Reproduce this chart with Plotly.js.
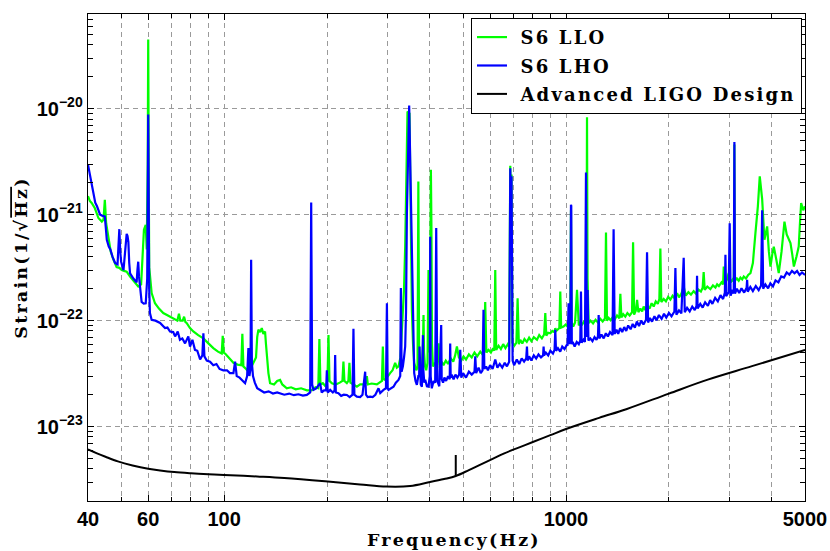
<!DOCTYPE html>
<html>
<head>
<meta charset="utf-8">
<script src="https://cdn.plot.ly/plotly-3.0.1.min.js"></script>
<style>
  html, body { margin: 0; padding: 0; background: #fff; }
  #chart { width: 830px; height: 551px; }
  .legendtext { letter-spacing: 2.2px; }
  .annotation-text, .ytitle { letter-spacing: 2.2px; }
</style>
</head>
<body>
<div id="chart"></div>
<script>
// ---- data: [frequency (Hz), strain in units of 1e-22 / sqrt(Hz)] ----
const STRAIN_UNIT = 1e-22;

const lloPoints = [
  [40, 15], [40.5, 13.5], [41.0, 12.9], [41.9, 11.5], [42.9, 9.3], [43.9, 8.6], [44.4, 9.0], [44.8, 13.8], [45.2, 8.3],
  [45.9, 5.8], [46.6, 4.5], [47.4, 3.8], [48.5, 3.2], [49.4, 3.15], [50.2, 3.0], [51.0, 2.95], [51.9, 2.9], [53.1, 2.6],
  [54.0, 2.45], [54.9, 2.3], [56.1, 2.1], [57.2, 2.2], [57.8, 3.8], [58.3, 7.2], [59.0, 8.0], [59.4, 4.7], [59.8, 30],
  [60.0, 450], [60.2, 30], [60.4, 3.2], [61.4, 1.82], [62.8, 1.46], [64.5, 1.3], [66.4, 1.18], [68.5, 1.12], [71.1, 1.05],
  [73.0, 1.0], [73.8, 1.16], [74.5, 1.0], [75.7, 1.0], [76.4, 1.09], [77.1, 0.97], [77.7, 0.95], [79.5, 0.85], [81.3, 0.79],
  [84, 0.73], [87.0, 0.68], [90, 0.61], [93.0, 0.55], [96, 0.51], [98.4, 0.49], [99.1, 0.72], [99.8, 0.5], [100.7, 0.49],
  [103.5, 0.44], [106.5, 0.40], [109.5, 0.385], [112.3, 0.38], [113.1, 0.75], [113.9, 0.37], [116, 0.35], [117.8, 0.33],
  [119.8, 0.36], [121.8, 0.40], [124, 0.45], [125, 0.7], [126.0, 0.82], [127.5, 0.78], [128.9, 0.85], [130.3, 0.75],
  [131.8, 0.79], [132.6, 0.6], [133.3, 0.46], [134.8, 0.32], [136.3, 0.257], [140, 0.25], [143, 0.27], [145.8, 0.276],
  [148, 0.25], [152.6, 0.23], [157, 0.235], [162, 0.225], [168, 0.23], [174.6, 0.22], [180, 0.22], [185, 0.235],
  [188.6, 0.23], [190, 0.67], [191.4, 0.25], [194.5, 0.257], [198, 0.24], [200.6, 0.27], [202, 0.73], [203.4, 0.27],
  [206.7, 0.257], [212, 0.25], [218, 0.26], [221.9, 0.27], [223.4, 0.41], [224.9, 0.27], [228.6, 0.257], [231, 0.27],
  [232.6, 0.40], [234.2, 0.26], [239, 0.25], [244.6, 0.238], [250, 0.25], [256, 0.25], [260, 0.26], [261.6, 0.30],
  [263.3, 0.25], [270, 0.255], [279.9, 0.25], [286.2, 0.26], [289.5, 0.27], [291.3, 0.57], [293, 0.28], [295.9, 0.276],
  [301, 0.30], [306, 0.32], [311, 0.34], [316.5, 0.40], [320, 0.36], [323.7, 0.37], [328, 0.45], [333.4, 1.18],
  [336, 2.0], [338.6, 5.0], [341, 20], [343.9, 94], [348.6, 90], [350.5, 20], [352.5, 3], [354.2, 1.27], [357, 0.6],
  [359.8, 0.40], [364.8, 0.34], [368, 0.36], [370, 20.6], [372, 0.38], [374.6, 0.40], [379, 0.37], [381.7, 0.6],
  [383.1, 1.13], [384.5, 0.5], [387, 0.37], [390.1, 0.34], [393.5, 0.4], [396.2, 3.0], [398.2, 0.5], [400, 0.7],
  [401.5, 10], [402.6, 26.5], [404, 8], [405.5, 0.6], [408.1, 0.37], [414, 0.40], [420, 0.36], [424, 0.61], [428, 0.38],
  [433, 0.41], [438.3, 0.38], [445, 0.42], [452, 0.39], [460, 0.44], [468, 0.41], [474, 0.47], [479.7, 0.57], [486, 0.45],
  [494, 0.42], [501.5, 0.46], [510, 0.43], [520, 0.48], [530, 0.45], [540, 0.50], [550, 0.46], [561.4, 0.51], [570, 0.48],
  [576, 0.5], [580.4, 1.5], [585, 0.5], [593.5, 0.53], [603, 0.5], [612, 0.55], [617, 0.52], [621, 3.0], [625, 0.53],
  [635.1, 0.58], [645, 0.54], [655, 0.6], [665, 0.55], [676, 0.6], [682, 0.57], [687.1, 29], [690, 10], [693, 24],
  [697, 0.62], [706, 0.58], [716, 0.62], [721.9, 1.63], [728, 0.6], [734.8, 0.66], [745, 0.61], [756, 0.67], [768, 0.63],
  [780, 0.69], [792, 0.64], [805, 0.70], [822.6, 0.66], [835, 0.73], [850, 0.68], [863, 0.74], [869.9, 1.18], [876, 0.72],
  [887, 0.77], [899.8, 0.76], [912, 0.8], [925, 0.78], [930.4, 0.85], [937, 0.8], [950, 0.84], [956, 0.85], [962.3, 1.88],
  [968, 0.86], [983.4, 0.88], [998, 0.92], [1014, 0.87], [1029, 0.92], [1034, 11], [1039, 0.95], [1050, 0.88],
  [1063, 0.96], [1077, 1.95], [1090, 0.9], [1100, 0.95], [1115, 0.92], [1130, 0.98], [1144, 0.93], [1148, 2.5],
  [1152, 83], [1156, 2.5], [1165, 0.95], [1180, 1.0], [1200, 0.94], [1220, 1.02], [1240, 0.96], [1260, 1.04],
  [1280, 0.98], [1300, 1.05], [1309, 6.8], [1318, 1.0], [1333, 1.06], [1350, 1.01], [1370, 1.08], [1390, 1.03],
  [1410, 1.12], [1432, 1.05], [1442, 1.79], [1452, 1.07], [1470, 1.15], [1491, 1.09], [1512, 1.18], [1535, 1.12],
  [1560, 1.2], [1571, 5.5], [1582, 1.14], [1600, 1.24], [1614, 1.57], [1628, 1.2], [1650, 1.3], [1670, 1.22],
  [1687, 1.36], [1705, 1.26], [1730, 1.38], [1755, 1.3], [1780, 1.46], [1805, 1.36], [1830, 1.52], [1855, 1.44],
  [1875, 1.6], [1888, 4.8], [1900, 1.5], [1931, 1.6], [1960, 1.52], [1990, 1.68], [2020, 1.58], [2050, 1.72],
  [2080, 1.62], [2113, 1.82], [2140, 1.66], [2175, 1.8], [2209, 2.1], [2240, 1.72], [2280, 1.86], [2320, 1.76],
  [2362, 1.9], [2400, 1.8], [2440, 1.96], [2480, 1.88], [2510, 2.05], [2527, 2.87], [2545, 1.95], [2590, 2.1],
  [2644, 1.98], [2690, 2.15], [2735, 2.05], [2767, 2.2], [2800, 2.12], [2850, 2.3], [2880, 2.2], [2893, 3.24],
  [2910, 2.25], [2950, 2.4], [2991, 2.81], [3030, 2.3], [3070, 2.45], [3095, 2.35], [3108, 46], [3120, 2.4],
  [3160, 2.5], [3200, 2.38], [3237, 2.55], [3275, 2.45], [3310, 2.61], [3360, 2.5], [3410, 2.7], [3463, 2.81],
  [3520, 3.5], [3581, 6.7], [3640, 12], [3687, 23], [3747, 14], [3805, 5.8], [3840, 6.5], [3875, 7.75], [3920, 4.5],
  [3963, 3.24], [4010, 4.2], [4052, 5.0], [4120, 3.8], [4190, 2.81], [4270, 4.5], [4354, 8.6], [4420, 6.5], [4534, 5.4],
  [4590, 4.2], [4639, 3.24], [4720, 4.0], [4793, 5.0], [4830, 8.0], [4872, 12.9], [4940, 11], [5000, 12]
];

const lhoPoints = [
  [40, 29.6], [40.7, 22], [41.4, 16], [42.0, 13], [42.5, 12], [43.0, 10.5], [43.4, 10], [44.0, 9.8], [44.8, 9.6],
  [45.1, 7.5], [45.4, 5.8], [46.0, 5.0], [46.5, 4.7], [47.2, 4.0], [48.0, 3.5], [48.8, 3.4], [49.1, 5.0], [49.4, 7.3],
  [49.7, 4.5], [50.0, 3.6], [50.8, 3.0], [51.3, 4.5], [51.6, 6.2], [51.9, 6.6], [52.2, 6.3], [52.5, 5.5], [52.8, 3.5],
  [53.1, 2.8], [54.3, 2.5], [55.5, 2.3], [55.8, 3.0], [56.1, 3.6], [56.4, 2.6], [56.7, 2.1], [57.4, 1.5], [58.2, 1.45],
  [59.0, 1.46], [59.6, 2.5], [60.0, 88], [60.4, 2.0], [60.7, 1.18], [61.4, 1.02], [63, 1.0], [65, 0.95], [67.2, 0.85],
  [68.3, 0.86], [69.5, 0.79], [71, 0.78], [71.9, 0.71], [73.2, 0.79], [74.3, 0.66], [75.5, 0.68], [76.9, 0.61],
  [78.6, 0.71], [79.5, 0.57], [80.8, 0.66], [82.2, 0.53], [83.5, 0.52], [85.1, 0.43], [86.4, 0.47], [87.0, 0.76],
  [87.6, 0.46], [89, 0.42], [91, 0.41], [93, 0.38], [95, 0.39], [97, 0.35], [99.5, 0.34], [102, 0.34], [104, 0.32],
  [106.5, 0.32], [107.7, 0.41], [108.9, 0.30], [111, 0.29], [113, 0.275], [115.2, 0.257], [116.8, 0.3], [117.8, 0.55],
  [118.6, 0.3], [119.5, 0.35], [120.0, 3.75], [120.6, 0.40], [121.5, 0.30], [123, 0.26], [125, 0.23], [127.5, 0.222],
  [131, 0.21], [135, 0.215], [139, 0.205], [143, 0.21], [145.8, 0.207], [150, 0.2], [155, 0.205], [160, 0.198],
  [165, 0.202], [170, 0.196], [174.6, 0.199], [178.6, 0.21], [179.8, 13.0], [181, 0.25], [182.6, 0.222], [186, 0.23],
  [190.9, 0.257], [193, 0.21], [196, 0.22], [198.8, 0.22], [199.8, 0.34], [201, 0.21], [204.3, 0.222], [208, 0.21],
  [210.5, 0.22], [211.3, 0.475], [212.2, 0.21], [216, 0.207], [220, 0.195], [224, 0.2], [228.6, 0.199], [233, 0.19],
  [237.5, 0.2], [239.0, 0.84], [240.5, 0.2], [244.6, 0.192], [250, 0.19], [254, 0.2], [258.6, 0.33], [260, 0.2],
  [263, 0.19], [267.5, 0.192], [272, 0.19], [277, 0.2], [282.9, 0.23], [286.2, 0.207], [292.6, 0.222], [297.5, 0.23],
  [299.4, 1.46], [301, 0.23], [302.6, 0.222], [308, 0.23], [313, 0.238], [318, 0.26], [323.7, 0.276], [327.5, 0.3],
  [328.9, 2.03], [330.5, 0.33], [333.4, 0.37], [336, 0.45], [338.6, 0.57], [340.5, 1.2], [342.5, 10.3], [347.8, 107],
  [351.9, 10.3], [355.7, 1.18], [357.5, 0.5], [359.8, 0.32], [363, 0.27], [366.3, 0.248], [370, 0.3], [372, 0.3],
  [373, 0.57], [374, 0.28], [376, 0.25], [379, 0.238], [380.8, 0.4], [381.6, 0.73], [382.5, 0.35], [385, 0.26],
  [387.5, 0.276], [392, 0.24], [396.2, 0.238], [399.5, 0.3], [400.7, 6.2], [402, 0.3], [405, 0.23], [410, 0.27],
  [414.4, 0.26], [417.3, 7.5], [420.2, 0.27], [426, 0.24], [431.5, 0.91], [433, 0.28], [437, 0.26], [441, 0.29],
  [446, 0.27], [452, 0.3], [457, 0.28], [458.5, 0.61], [460, 0.29], [463, 0.31], [469, 0.28], [475, 0.31], [481, 0.29],
  [487, 0.31], [490.6, 0.53], [494, 0.29], [500, 0.32], [510, 0.29], [520, 0.33], [530, 0.31], [540, 0.33],
  [542.9, 0.46], [546, 0.32], [555, 0.36], [563, 0.32], [570, 0.34], [573.8, 1.27], [577, 0.35], [584, 0.37],
  [591, 0.34], [600, 0.38], [610, 0.35], [621, 0.43], [630, 0.36], [640, 0.39], [651, 0.36], [662, 0.40], [672, 0.37],
  [682, 0.41], [687.1, 27.5], [690.5, 8], [693, 23], [698, 0.42], [705, 0.38], [718, 0.43], [730, 0.39], [742, 0.44],
  [754, 0.41], [765, 0.44], [768.8, 0.57], [772, 0.42], [780, 0.46], [792, 0.42], [805, 0.47], [818, 0.44], [831, 0.48],
  [845, 0.45], [857, 0.47], [860, 0.57], [863, 0.47], [873, 0.50], [887, 0.47], [900, 0.52], [916, 0.49], [926, 0.53],
  [930.4, 0.82], [935, 0.52], [947, 0.55], [962, 0.51], [975, 0.57], [990, 0.54], [1005, 0.59], [1010.5, 0.58],
  [1017.6, 1.46], [1024, 0.6], [1030, 0.8], [1034, 12.4], [1036, 12.1], [1040, 0.6], [1046, 0.63], [1060, 0.57],
  [1075, 0.63], [1090, 0.6], [1101, 0.65], [1106, 1.88], [1111, 0.62], [1125, 0.66], [1136, 0.63], [1144, 25],
  [1150, 0.7], [1157, 1.95], [1163, 0.65], [1178, 0.68], [1195, 0.64], [1212, 0.7], [1228, 0.66], [1240, 0.71],
  [1246, 1.13], [1252, 0.68], [1270, 0.74], [1289, 0.68], [1308, 0.76], [1326, 0.71], [1345, 0.78], [1368, 0.73],
  [1378, 7.3], [1388, 0.75], [1405, 0.82], [1421, 0.75], [1440, 0.85], [1460, 0.78], [1480, 0.87], [1500, 0.80],
  [1520, 0.9], [1545, 0.83], [1567, 0.93], [1590, 0.86], [1612, 0.98], [1635, 0.89], [1660, 1.0], [1685, 0.92],
  [1714, 1.02], [1726, 4.43], [1738, 0.96], [1760, 1.06], [1785, 0.98], [1814, 1.1], [1840, 1.01], [1870, 1.13],
  [1904, 1.04], [1935, 1.16], [1965, 1.07], [2000, 1.18], [2035, 1.1], [2075, 1.22], [2089, 3.13], [2103, 1.14],
  [2140, 1.25], [2175, 1.17], [2209, 3.92], [2225, 1.2], [2260, 1.32], [2300, 1.22], [2340, 1.36], [2380, 1.26],
  [2408, 1.38], [2417, 2.65], [2426, 1.3], [2470, 1.44], [2510, 1.33], [2552, 1.49], [2600, 1.38], [2640, 1.56],
  [2680, 1.44], [2730, 1.64], [2780, 1.52], [2830, 1.74], [2880, 1.6], [2915, 1.84], [2926, 4.18], [2940, 1.7],
  [2990, 1.86], [3011, 8.3], [3030, 1.72], [3070, 1.95], [3095, 1.8], [3108, 48.5], [3120, 1.8], [3160, 2.0],
  [3210, 1.82], [3260, 2.02], [3320, 1.84], [3375, 2.05], [3386, 2.43], [3400, 1.88], [3460, 2.08], [3520, 1.9],
  [3590, 2.12], [3660, 1.94], [3720, 2.15], [3747, 11], [3773, 2.0], [3830, 2.2], [3900, 2.02], [3960, 2.25],
  [4030, 2.1], [4100, 2.4], [4180, 2.3], [4260, 2.62], [4340, 2.55], [4420, 2.85], [4500, 2.72], [4580, 2.95],
  [4660, 2.8], [4740, 2.95], [4820, 2.7], [4900, 2.85], [5000, 2.7]
];

const designPoints = [
  [40, 0.061], [42.5, 0.056], [45, 0.052], [48.9, 0.047], [54, 0.043], [60, 0.040], [65, 0.0385], [71.5, 0.0372],
  [80, 0.0363], [90, 0.0356], [100, 0.035], [125, 0.0338], [150, 0.0327], [197.5, 0.0305], [250, 0.0285],
  [298.5, 0.0272], [350, 0.0275], [397, 0.0298], [440, 0.032], [476, 0.0342],
  [520, 0.0389], [560, 0.0436], [610, 0.0497], [660, 0.056], [730, 0.0637], [800, 0.0715], [900, 0.083],
  [1000, 0.095], [1250, 0.121], [1500, 0.146], [2000, 0.205], [2585, 0.276], [3500, 0.372], [5000, 0.53]
];
const designSpike = [[476, 0.0342], [476, 0.054]];

const seriesNames = ['\u00a0S6 LLO', '\u00a0S6 LHO', '\u00a0Advanced LIGO Design'];
const seriesColors = ['#00ff00', '#0000ff', '#000000'];

const xTickVals = [40, 60, 100, 1000, 5000];
const xTickText = ['40', '60', '100', '1000', '5000'];
const xMinorVals = [50, 70, 80, 90, 200, 300, 400, 500, 600, 700, 800, 900, 2000, 3000, 4000];
const yTickVals = [1e-23, 1e-22, 1e-21, 1e-20];
const yTickText = ['10<sup>\u221223</sup>', '10<sup>\u221222</sup>', '10<sup>\u221221</sup>', '10<sup>\u221220</sup>'];
const yMinorMult = [2, 3, 4, 5, 6, 7, 8, 9];
const yMinorDecades = [1e-24, 1e-23, 1e-22, 1e-21, 1e-20];

const xTitle = 'Frequency(Hz)';
const yTitle = 'Strain(1/\u221A<span style="text-decoration:overline">Hz</span>)';

// ---- build ----
const yMinorVals = [];
yMinorDecades.forEach(d => yMinorMult.forEach(m => yMinorVals.push(m * d)));

const seriesPoints = [lloPoints, lhoPoints, designPoints];
const traces = seriesNames.map((n, i) => ({
  type: 'scatter', mode: 'lines', name: n,
  x: seriesPoints[i].map(p => p[0]),
  y: seriesPoints[i].map(p => p[1] * STRAIN_UNIT),
  legendgroup: 'g' + i,
  line: i === 2
    ? { color: seriesColors[i], width: 2, shape: 'spline', smoothing: 1 }
    : { color: seriesColors[i], width: 2.2 }
}));
traces.push({
  type: 'scatter', mode: 'lines', showlegend: false, legendgroup: 'g2',
  x: designSpike.map(p => p[0]), y: designSpike.map(p => p[1] * STRAIN_UNIT),
  line: { color: seriesColors[2], width: 2 }
});

const tickFont = { family: 'Liberation Sans, Arial, sans-serif', size: 20, color: '#000', weight: 'bold' };
const titleFont = { family: 'DejaVu Serif, serif', size: 17.5, color: '#000', weight: 'bold' };
const gridStyle = { gridcolor: '#9a9a9a', gridwidth: 1, griddash: '5px,4px' };

const layout = {
  width: 830, height: 551,
  margin: { l: 88, r: 25, t: 14, b: 50 },
  paper_bgcolor: '#fff', plot_bgcolor: '#fff',
  showlegend: true,
  legend: {
    x: 0.9958, xanchor: 'right', y: 0.992, yanchor: 'top',
    bgcolor: '#fff', bordercolor: '#000', borderwidth: 1,
    font: { family: 'DejaVu Serif, serif', size: 18, color: '#000', weight: 'bold' },
    tracegroupgap: 2, itemwidth: 30
  },
  xaxis: Object.assign({
    type: 'log', range: [Math.log10(40), Math.log10(5000)],
    tickmode: 'array', tickvals: xTickVals, ticktext: xTickText,
    ticks: 'inside', ticklen: 6, tickcolor: '#000', tickwidth: 1,
    showline: true, linecolor: '#000', linewidth: 1.3, mirror: 'allticks',
    showgrid: true, zeroline: false, tickfont: tickFont, automargin: false,
    minor: Object.assign({ tickmode: 'array', tickvals: xMinorVals, ticks: 'inside', ticklen: 4, tickcolor: '#000', showgrid: true }, gridStyle)
  }, gridStyle),
  yaxis: Object.assign({
    type: 'log', range: [-23.702, -19.106],
    tickmode: 'array', tickvals: yTickVals, ticktext: yTickText,
    ticks: 'inside', ticklen: 6, tickcolor: '#000', tickwidth: 1,
    showline: true, linecolor: '#000', linewidth: 1.3, mirror: 'allticks',
    showgrid: true, zeroline: false, tickfont: tickFont, automargin: false,
    minor: { tickmode: 'array', tickvals: yMinorVals, ticks: 'inside', ticklen: 5, tickcolor: '#000', showgrid: false },
    title: { text: yTitle, font: titleFont, standoff: 4 }
  }, gridStyle),
  annotations: [{
    text: xTitle, xref: 'paper', yref: 'paper', x: 0.5105, y: -0.080,
    xanchor: 'center', yanchor: 'middle', showarrow: false, font: titleFont
  }]
};

Plotly.newPlot('chart', traces, layout, { staticPlot: true, displayModeBar: false });
</script>
</body>
</html>
